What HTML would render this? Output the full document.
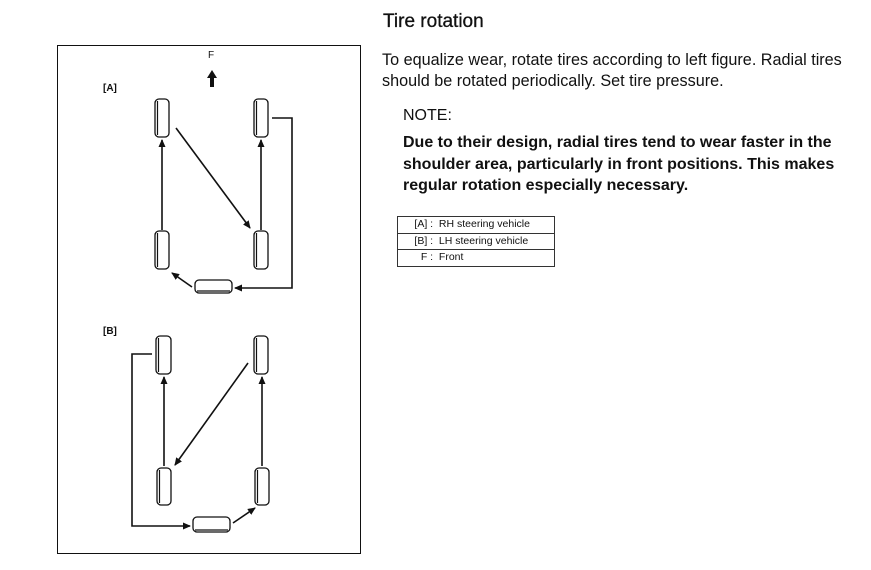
<!DOCTYPE html>
<html><head><meta charset="utf-8"><style>
body{margin:0;width:871px;height:570px;background:#fff;position:relative;font-family:"Liberation Sans",Arial,sans-serif;color:#111;overflow:hidden}
.t{position:absolute;white-space:nowrap}
table{position:absolute;left:397px;top:216px;border-collapse:collapse;font-size:10.5px;width:158px}
td{border:1px solid #333;height:15.5px;padding:0;line-height:15px}
</style></head><body>
<svg width="871" height="570" style="position:absolute;left:0;top:0">
<defs><marker id="a" markerWidth="8" markerHeight="8" refX="7" refY="4" orient="auto" markerUnits="userSpaceOnUse"><path d="M0,0.5 L8,4 L0,7.5z" fill="#111"/></marker></defs>
<rect x="57.5" y="45.5" width="303" height="508" fill="none" stroke="#111"/>
<g fill="#fff" stroke="#111" stroke-width="1.3">
<rect x="155" y="99" width="14" height="38" rx="4"/><rect x="254" y="99" width="14" height="38" rx="4"/>
<rect x="155" y="231" width="14" height="38" rx="4"/><rect x="254" y="231" width="14" height="38" rx="4"/>
<rect x="195" y="280" width="37" height="13" rx="4"/>
<rect x="156" y="336" width="15" height="38" rx="4"/><rect x="254" y="336" width="14" height="38" rx="4"/>
<rect x="157" y="468" width="14" height="37" rx="4"/><rect x="255" y="468" width="14" height="37" rx="4"/>
<rect x="193" y="517" width="37" height="15" rx="4"/>
</g>
<g stroke="#111" stroke-width="1.2">
<line x1="157.5" y1="101" x2="157.5" y2="135"/><line x1="256.5" y1="101" x2="256.5" y2="135"/>
<line x1="157.5" y1="233" x2="157.5" y2="267"/><line x1="256.5" y1="233" x2="256.5" y2="267"/>
<line x1="197" y1="291" x2="230" y2="291"/>
<line x1="158.5" y1="338" x2="158.5" y2="372"/><line x1="256.5" y1="338" x2="256.5" y2="372"/>
<line x1="159.5" y1="470" x2="159.5" y2="503"/><line x1="257.5" y1="470" x2="257.5" y2="503"/>
<line x1="195" y1="530" x2="228" y2="530"/>
</g>
<g stroke="#111" stroke-width="1.6" fill="none" marker-end="url(#a)">
<line x1="162" y1="230" x2="162" y2="140"/>
<line x1="261" y1="230" x2="261" y2="140"/>
<line x1="176" y1="128" x2="250" y2="228"/>
<polyline points="272,118 292,118 292,288 235,288"/>
<line x1="192" y1="287" x2="172" y2="273"/>
<line x1="164" y1="466" x2="164" y2="377"/>
<line x1="262" y1="466" x2="262" y2="377"/>
<line x1="248" y1="363" x2="175" y2="465"/>
<polyline points="152,354 132,354 132,526 190,526"/>
<line x1="233" y1="523" x2="255" y2="508"/>
</g>
<path d="M212,70 L217,78 L214,78 L214,87 L210,87 L210,78 L207,78z" fill="#111"/>
</svg>
<div class="t" style="left:208px;top:50px;font-size:10px">F</div>
<div class="t" style="left:103px;top:83px;font-size:10px;font-weight:bold">[A]</div>
<div class="t" style="left:103px;top:326px;font-size:10px;font-weight:bold">[B]</div>
<div class="t" style="left:383px;top:11px;font-size:19px;-webkit-text-stroke:0.3px #111">Tire rotation</div>
<div class="t" style="left:382px;top:50px;font-size:16.2px;line-height:21px">To equalize wear, rotate tires according to left figure. Radial tires<br>should be rotated periodically. Set tire pressure.</div>
<div class="t" style="left:403px;top:107px;font-size:16px">NOTE:</div>
<div class="t" style="left:403px;top:132px;font-size:16px;font-weight:bold;line-height:21.5px">Due to their design, radial tires tend to wear faster in the<br>shoulder area, particularly in front positions. This makes<br>regular rotation especially necessary.</div>
<table>
<tr><td style="width:38px;text-align:right;border-right:none">[A] :&nbsp;</td><td style="border-left:none">&nbsp;RH steering vehicle</td></tr>
<tr><td style="text-align:right;border-right:none">[B] :&nbsp;</td><td style="border-left:none">&nbsp;LH steering vehicle</td></tr>
<tr><td style="text-align:right;border-right:none">F :&nbsp;</td><td style="border-left:none">&nbsp;Front</td></tr>
</table>
</body></html>
